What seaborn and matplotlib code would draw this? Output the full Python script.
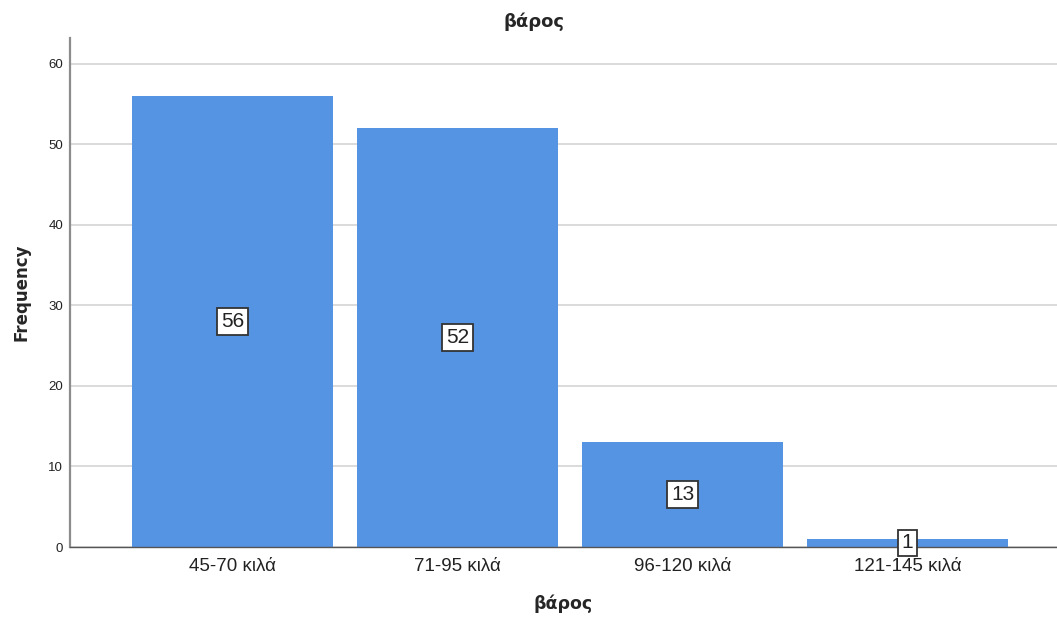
import pandas as pd
import seaborn as sns
import matplotlib.pyplot as plt

# data
categories = ["45-70 κιλά", "71-95 κιλά", "96-120 κιλά", "121-145 κιλά"]
frequencies = [56, 52, 13, 1]
yticks = [0, 10, 20, 30, 40, 50, 60]

df = pd.DataFrame({"βάρος": categories, "Frequency": frequencies})

sns.set_style("white")
plt.rcParams['font.family'] = ['Liberation Sans', 'DejaVu Sans']

fig = plt.figure(figsize=(10.57, 6.19), dpi=100)
ax = fig.add_axes([0.0662, 0.1163, 0.9338, 0.8223])

# grid behind bars
ax.set_axisbelow(True)
ax.yaxis.grid(True, color="#d4d4d4", linewidth=1.2)

sns.barplot(data=df, x="βάρος", y="Frequency", color="#5594e3",
            saturation=1, width=0.893, linewidth=0, ax=ax)

# count labels in boxes at mid-height
for i, v in enumerate(frequencies):
    ax.text(i, v / 2, str(v), ha="center", va="center", fontsize=15,
            color="#222222",
            bbox=dict(boxstyle="square,pad=0.18", facecolor="white",
                      edgecolor="#333333", linewidth=1.3))

ax.set_ylim(0, 63.2)
ax.set_xlim(-0.722, 3.664)
ax.set_yticks(yticks)
ax.tick_params(axis="y", length=0, pad=5, labelsize=9.5, labelcolor="#222222")
ax.tick_params(axis="x", length=0, pad=8, labelsize=13.5, labelcolor="#222222")

for s in ["top", "right"]:
    ax.spines[s].set_visible(False)
ax.spines["left"].set_color("#8c8c8c")
ax.spines["left"].set_linewidth(1.6)
ax.spines["bottom"].set_color("#555555")
ax.spines["bottom"].set_linewidth(1.0)

ax.set_xlabel("βάρος", fontsize=12.5, fontweight="bold", family="DejaVu Sans",
              labelpad=14)
ax.set_ylabel("Frequency", fontsize=12, fontweight="bold", family="DejaVu Sans",
              labelpad=13)
fig.text(0.505, 0.965, "βάρος", ha="center", va="center", fontsize=13,
         fontweight="bold", family="DejaVu Sans")

plt.savefig("out.png", dpi=100)
